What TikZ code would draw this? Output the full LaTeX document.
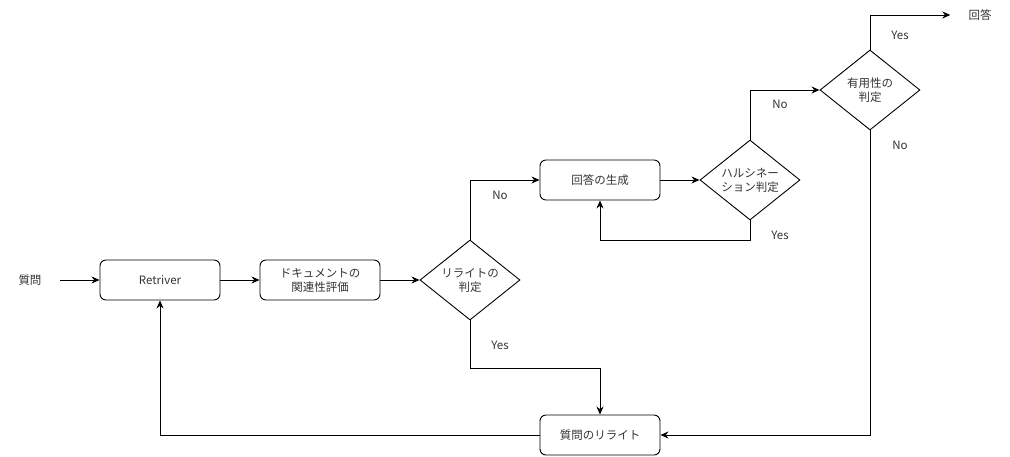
\documentclass[tikz,border=0pt]{standalone}
\usepackage{fontspec}
\setmainfont{Noto Sans CJK JP}
\usetikzlibrary{shapes.geometric,arrows.meta}
\begin{document}
\begin{tikzpicture}[x=1pt,y=-1pt,
  every node/.style={font=\fontsize{11.5}{14}\selectfont, text=black!80},
  proc/.style={draw=black, text=black!80, rounded corners=6pt, minimum width=120pt, minimum height=40pt, inner sep=0pt, align=center, line width=0.9pt},
  decide/.style={draw=black, diamond, aspect=1.25, minimum width=100pt, minimum height=80pt, inner sep=0pt, align=center, line width=0.9pt},
  lbl/.style={inner sep=0pt},
  conn/.style={draw=black, line width=0.9pt, -{Stealth[length=8pt,width=7pt]}},
  line/.style={draw=black, line width=0.9pt}]
\useasboundingbox (0,0) rectangle (1010,456);
\node[lbl, minimum width=60pt] (q) at (30,280) {質問};
\node[proc] (ret) at (160,280) {Retriver};
\node[proc] (doc) at (320,280) {ドキュメントの\\関連性評価};
\node[decide] (rw) at (470,280) {リライトの\\判定};
\node[proc] (gen) at (600,180) {回答の生成};
\node[decide] (hal) at (750,180) {ハルシネー\\ション判定};
\node[decide] (use) at (870,90) {有用性の\\判定};
\node[lbl, inner xsep=18pt] (ans) at (980,15) {回答};
\node[proc] (rq) at (600,435) {質問のリライト};

\node[lbl] (l1) at (500,195) {No};
\node[lbl] (l2) at (780,235) {Yes};
\node[lbl] (l3) at (780,104) {No};
\node[lbl] (l4) at (900,35) {Yes};
\node[lbl] (l5) at (900,145) {No};
\node[lbl] (l6) at (500,345) {Yes};

\path[conn] (q.east) -- (ret.west);
\path[conn] (ret) -- (doc);
\path[conn] (doc) -- (rw);
\path[conn] (rw.north) |- (gen.west);
\path[conn] (gen) -- (hal);
\path[conn] (hal.south) -- ++(0,20) -| (gen.south);
\path[conn] (hal.north) |- (use.west);
\path[conn] (use.north) |- (ans.west);
\path[conn] (use.south) |- (rq.east);
\path[conn] (rw.south) -- ++(0,48) -| (rq.north);
\path[conn] (rq.west) -| (ret.south);
\end{tikzpicture}
\end{document}
